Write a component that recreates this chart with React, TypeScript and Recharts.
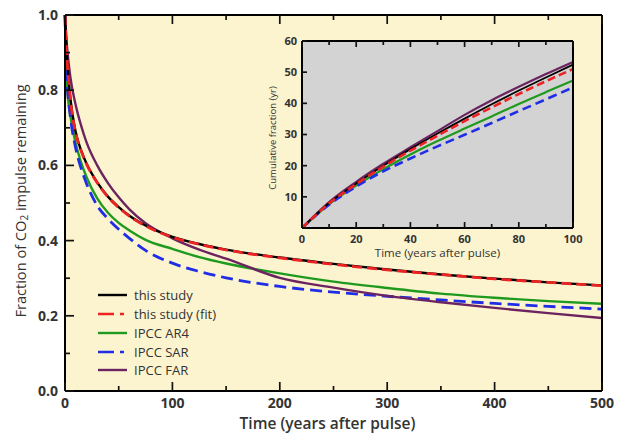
import React from 'react';
import { LineChart, Line, XAxis, YAxis, CartesianGrid, Legend, Label } from 'recharts';

// ---- main panel data (fraction remaining) ----
const years = [0, 1, 2, 5, 10, 15, 20, 30, 40, 50, 60, 75, 100, 125, 150, 200, 250, 300, 350, 400, 450, 500];
const thisStudy = [1.0, 0.934, 0.880, 0.778, 0.688, 0.640, 0.605, 0.555, 0.517, 0.489, 0.466, 0.440, 0.410, 0.391, 0.376, 0.355, 0.338, 0.323, 0.310, 0.299, 0.289, 0.281];
const thisStudyFit = [1.0, 0.932, 0.879, 0.776, 0.686, 0.639, 0.604, 0.554, 0.516, 0.488, 0.465, 0.439, 0.409, 0.390, 0.375, 0.354, 0.337, 0.322, 0.310, 0.298, 0.289, 0.280];
const ar4 = [1.0, 0.870, 0.810, 0.732, 0.658, 0.608, 0.569, 0.512, 0.474, 0.447, 0.427, 0.402, 0.378, 0.356, 0.339, 0.313, 0.291, 0.274, 0.259, 0.248, 0.239, 0.232];
const sar = [1.0, 0.880, 0.820, 0.730, 0.645, 0.592, 0.552, 0.493, 0.458, 0.430, 0.406, 0.374, 0.340, 0.318, 0.301, 0.278, 0.263, 0.252, 0.242, 0.233, 0.225, 0.218];
const far = [1.0, 0.950, 0.912, 0.835, 0.760, 0.706, 0.662, 0.600, 0.553, 0.515, 0.483, 0.446, 0.406, 0.376, 0.352, 0.301, 0.275, 0.253, 0.236, 0.221, 0.207, 0.194];

// ---- inset data (cumulative fraction, yr) ----
const insetYears = [0, 10, 20, 30, 40, 50, 60, 70, 80, 90, 100];
const cumThisStudy = [0, 8.0, 14.3, 20.0, 25.3, 30.3, 35.1, 39.7, 44.1, 48.3, 52.4];
const cumThisStudyFit = [0, 7.9, 14.1, 19.7, 24.8, 29.6, 34.3, 38.7, 43.0, 47.1, 51.0];
const cumAr4 = [0, 7.6, 13.6, 18.9, 23.6, 27.9, 31.9, 35.8, 39.8, 43.6, 47.3];
const cumSar = [0, 7.5, 13.3, 18.2, 22.3, 26.2, 29.9, 33.7, 37.5, 41.3, 45.1];
const cumFar = [0, 8.3, 14.8, 20.6, 25.9, 31.1, 36.3, 41.0, 45.3, 49.4, 53.3];

// ---- ticks ----
const mainXTicks = [0, 50, 100, 150, 200, 250, 300, 350, 400, 450, 500];
const mainYTicks = [0, 0.1, 0.2, 0.3, 0.4, 0.5, 0.6, 0.7, 0.8, 0.9, 1.0];
const insetXTicks = [0, 10, 20, 30, 40, 50, 60, 70, 80, 90, 100];
const insetYTicks = [0, 10, 20, 30, 40, 50, 60];

const seriesNames = ['this study', 'this study (fit)', 'IPCC AR4', 'IPCC SAR', 'IPCC FAR'];

const C_BLACK = '#000000';
const C_RED = '#ee2222';
const C_GREEN = '#1f9a1f';
const C_BLUE = '#1f2ee6';
const C_PURPLE = '#6c2460';
const TXT = '#333333';
const FONT = '"Open Sans", "DejaVu Sans", sans-serif';

const mainData = years.map((t, i) => ({
  t,
  thisStudy: thisStudy[i],
  thisStudyFit: thisStudyFit[i],
  ar4: ar4[i],
  sar: sar[i],
  far: far[i],
}));

const insetData = insetYears.map((t, i) => ({
  t,
  thisStudy: cumThisStudy[i],
  thisStudyFit: cumThisStudyFit[i],
  ar4: cumAr4[i],
  sar: cumSar[i],
  far: cumFar[i],
}));

type TickOpts = {
  side: 'bottom' | 'top' | 'left' | 'right';
  isMajor: (v: number) => boolean;
  showLabel: (v: number) => boolean;
  format: (v: number) => string;
  major: number;
  minor: number;
  fontSize: number;
  offset: number;
};

function makeTick(o: TickOpts) {
  return (props: any) => {
    const x = Number(props.x);
    const y = Number(props.y);
    const v = props.payload.value as number;
    const len = o.isMajor(v) ? o.major : o.minor;
    let x2 = x, y2 = y;
    if (o.side === 'bottom') y2 = y - len;
    if (o.side === 'top') y2 = y + len;
    if (o.side === 'left') x2 = x + len;
    if (o.side === 'right') x2 = x - len;
    const lbl = o.showLabel(v);
    return (
      <g>
        <line x1={x} y1={y} x2={x2} y2={y2} stroke="#111" strokeWidth={1.7} />
        {lbl && o.side === 'bottom' && (
          <text x={x} y={y + o.offset} textAnchor="middle" fontSize={o.fontSize} fontWeight={700} fill={TXT} fontFamily={FONT}>
            {o.format(v)}
          </text>
        )}
        {lbl && o.side === 'left' && (
          <text x={x - o.offset} y={y} dy="0.36em" textAnchor="end" fontSize={o.fontSize} fontWeight={700} fill={TXT} fontFamily={FONT}>
            {o.format(v)}
          </text>
        )}
      </g>
    );
  };
}

const mainMajorX = (v: number) => Math.round(v) % 100 === 0;
const mainMajorY = (v: number) => Math.round(v * 10) % 2 === 0;
const insetMajorX = (v: number) => Math.round(v) % 20 === 0;
const never = () => false;
const always = () => true;

// tick renderers (created once)
const mainBottomTick = makeTick({ side: 'bottom', isMajor: mainMajorX, showLabel: mainMajorX, format: (v) => String(v), major: 9, minor: 5, fontSize: 14, offset: 17 });
const mainTopTick = makeTick({ side: 'top', isMajor: mainMajorX, showLabel: never, format: String, major: 9, minor: 5, fontSize: 14, offset: 0 });
const mainLeftTick = makeTick({ side: 'left', isMajor: mainMajorY, showLabel: mainMajorY, format: (v) => v.toFixed(1), major: 9, minor: 5, fontSize: 14, offset: 7 });
const mainRightTick = makeTick({ side: 'right', isMajor: mainMajorY, showLabel: never, format: String, major: 9, minor: 5, fontSize: 14, offset: 0 });
const insetBottomTick = makeTick({ side: 'bottom', isMajor: insetMajorX, showLabel: insetMajorX, format: (v) => String(v), major: 6, minor: 4, fontSize: 11, offset: 15 });
const insetTopTick = makeTick({ side: 'top', isMajor: insetMajorX, showLabel: never, format: String, major: 6, minor: 4, fontSize: 11, offset: 0 });
const insetLeftTick = makeTick({ side: 'left', isMajor: always, showLabel: (v) => v > 0, format: (v) => String(v), major: 5, minor: 5, fontSize: 11, offset: 5 });
const insetRightTick = makeTick({ side: 'right', isMajor: always, showLabel: never, format: String, major: 5, minor: 5, fontSize: 11, offset: 0 });

const legendItems = [
  { name: seriesNames[0], color: C_BLACK, dash: undefined as string | undefined, width: 2.4 },
  { name: seriesNames[1], color: C_RED, dash: '16 6 4 6', width: 2.6 },
  { name: seriesNames[2], color: C_GREEN, dash: undefined, width: 2.4 },
  { name: seriesNames[3], color: C_BLUE, dash: '16 6 4 6', width: 2.6 },
  { name: seriesNames[4], color: C_PURPLE, dash: undefined, width: 2.4 },
];

const LegendContent = () => (
  <div style={{ display: 'flex', flexDirection: 'column', fontFamily: FONT }}>
    {legendItems.map((it) => (
      <div key={it.name} style={{ height: 18.75, display: 'flex', alignItems: 'center' }}>
        <svg width={38} height={10} style={{ display: 'block' }}>
          <line x1={2} y1={5} x2={31} y2={5} stroke={it.color} strokeWidth={it.width} strokeDasharray={it.dash} />
        </svg>
        <span style={{ fontSize: 13, color: TXT, lineHeight: '14px' }}>{it.name}</span>
      </div>
    ))}
  </div>
);

const MainXTitle = (props: any) => {
  const vb = props.viewBox;
  return (
    <text x={vb.x + vb.width / 2 - 6} y={vb.y + 38} textAnchor="middle" fontSize={15.5} fontWeight={600} fill={TXT} fontFamily={FONT}>
      Time (years after pulse)
    </text>
  );
};

const MainYTitle = () => {
  const cx = 20;
  const cy = 201;
  return (
    <text x={cx} y={cy} transform={`rotate(-90, ${cx}, ${cy})`} textAnchor="middle" dominantBaseline="central" fontSize={14.6} fontWeight={500} fill={TXT} fontFamily={FONT}>
      <tspan>Fraction of CO</tspan>
      <tspan fontSize={10} dy={4}>2</tspan>
      <tspan dy={-4}> impulse remaining</tspan>
    </text>
  );
};

const InsetXTitle = (props: any) => {
  const vb = props.viewBox;
  return (
    <text x={vb.x + vb.width / 2} y={vb.y + 29} textAnchor="middle" fontSize={11.5} fontWeight={500} fill={TXT} fontFamily={FONT}>
      Time (years after pulse)
    </text>
  );
};

const InsetYTitle = () => {
  const cx = 22;
  const cy = 108;
  return (
    <text x={cx} y={cy} transform={`rotate(-90, ${cx}, ${cy})`} textAnchor="middle" dominantBaseline="central" fontSize={9.5} fill={TXT} fontFamily={FONT}>
      Cumulative fraction (yr)
    </text>
  );
};

const MAIN_W = 617, MAIN_H = 434;
const MAIN_MARGIN = { top: 14, right: 14, bottom: 0, left: 0 };
const INSET_W = 340, INSET_H = 235;
const INSET_MARGIN = { top: 10, right: 16, bottom: 0, left: 0 };

export default function App() {
  const axisLine = { stroke: '#000', strokeWidth: 2 };
  return (
    <div style={{ position: 'absolute', left: 0, top: 0, width: 617, height: 434, background: '#ffffff', overflow: 'hidden' }}>
      {/* main panel background */}
      <div style={{ position: 'absolute', left: 0, top: 0 }}>
        <LineChart width={MAIN_W} height={MAIN_H} data={mainData} margin={{ top: 15, right: 15, bottom: 43, left: 65 }}>
          <CartesianGrid fill="#fcf4cf" horizontal={false} vertical={false} />
          <XAxis dataKey="t" type="number" domain={[0, 500]} hide />
          <YAxis type="number" domain={[0, 1]} hide />
        </LineChart>
      </div>
      {/* main panel */}
      <div style={{ position: 'absolute', left: 0, top: 0 }}>
        <LineChart width={MAIN_W} height={MAIN_H} data={mainData} margin={MAIN_MARGIN}>
          <XAxis xAxisId="b" dataKey="t" type="number" domain={[0, 500]} ticks={mainXTicks} interval={0} height={43}
            axisLine={axisLine} tickLine={false} tickSize={0} tickMargin={0} tick={mainBottomTick}>
            <Label content={MainXTitle} />
          </XAxis>
          <XAxis xAxisId="t" orientation="top" dataKey="t" type="number" domain={[0, 500]} ticks={mainXTicks} interval={0} height={1}
            axisLine={axisLine} tickLine={false} tickSize={0} tickMargin={0} tick={mainTopTick} />
          <YAxis yAxisId="l" type="number" domain={[0, 1]} ticks={mainYTicks} interval={0} width={65}
            axisLine={axisLine} tickLine={false} tickSize={0} tickMargin={0} tick={mainLeftTick}>
            <Label content={MainYTitle} />
          </YAxis>
          <YAxis yAxisId="r" orientation="right" type="number" domain={[0, 1]} ticks={mainYTicks} interval={0} width={1}
            axisLine={axisLine} tickLine={false} tickSize={0} tickMargin={0} tick={mainRightTick} />
          <Line xAxisId="b" yAxisId="l" type="monotone" dataKey="ar4" name={seriesNames[2]} stroke={C_GREEN} strokeWidth={2.4} dot={false} isAnimationActive={false} />
          <Line xAxisId="b" yAxisId="l" type="monotone" dataKey="sar" name={seriesNames[3]} stroke={C_BLUE} strokeWidth={2.8} strokeDasharray="12 6" dot={false} isAnimationActive={false} />
          <Line xAxisId="b" yAxisId="l" type="monotone" dataKey="far" name={seriesNames[4]} stroke={C_PURPLE} strokeWidth={2.4} dot={false} isAnimationActive={false} />
          <Line xAxisId="b" yAxisId="l" type="monotone" dataKey="thisStudy" name={seriesNames[0]} stroke={C_BLACK} strokeWidth={2.4} dot={false} isAnimationActive={false} />
          <Line xAxisId="b" yAxisId="l" type="monotone" dataKey="thisStudyFit" name={seriesNames[1]} stroke={C_RED} strokeWidth={2.8} strokeDasharray="10 5" dot={false} isAnimationActive={false} />
          <Legend layout="vertical" align="center" verticalAlign="middle" content={LegendContent}
            wrapperStyle={{ position: 'absolute', left: 96, top: 286, width: 170, height: 95, bottom: 'auto', right: 'auto' }} />
        </LineChart>
      </div>
      {/* inset background */}
      <div style={{ position: 'absolute', left: 250, top: 30 }}>
        <LineChart width={INSET_W} height={INSET_H} data={insetData} margin={{ top: 11, right: 17, bottom: 37, left: 52 }}>
          <CartesianGrid fill="#d3d3d3" horizontal={false} vertical={false} />
          <XAxis dataKey="t" type="number" domain={[0, 100]} hide />
          <YAxis type="number" domain={[0, 60]} hide />
        </LineChart>
      </div>
      {/* inset */}
      <div style={{ position: 'absolute', left: 250, top: 30 }}>
        <LineChart width={INSET_W} height={INSET_H} data={insetData} margin={INSET_MARGIN}>
          <XAxis xAxisId="b" dataKey="t" type="number" domain={[0, 100]} ticks={insetXTicks} interval={0} height={37}
            axisLine={axisLine} tickLine={false} tickSize={0} tickMargin={0} tick={insetBottomTick}>
            <Label content={InsetXTitle} />
          </XAxis>
          <XAxis xAxisId="t" orientation="top" dataKey="t" type="number" domain={[0, 100]} ticks={insetXTicks} interval={0} height={1}
            axisLine={axisLine} tickLine={false} tickSize={0} tickMargin={0} tick={insetTopTick} />
          <YAxis yAxisId="l" type="number" domain={[0, 60]} ticks={insetYTicks} interval={0} width={52}
            axisLine={axisLine} tickLine={false} tickSize={0} tickMargin={0} tick={insetLeftTick}>
            <Label content={InsetYTitle} />
          </YAxis>
          <YAxis yAxisId="r" orientation="right" type="number" domain={[0, 60]} ticks={insetYTicks} interval={0} width={1}
            axisLine={axisLine} tickLine={false} tickSize={0} tickMargin={0} tick={insetRightTick} />
          <Line xAxisId="b" yAxisId="l" type="monotone" dataKey="ar4" stroke={C_GREEN} strokeWidth={2.2} dot={false} isAnimationActive={false} />
          <Line xAxisId="b" yAxisId="l" type="monotone" dataKey="sar" stroke={C_BLUE} strokeWidth={2.6} strokeDasharray="9 5" dot={false} isAnimationActive={false} />
          <Line xAxisId="b" yAxisId="l" type="monotone" dataKey="far" stroke={C_PURPLE} strokeWidth={2.2} dot={false} isAnimationActive={false} />
          <Line xAxisId="b" yAxisId="l" type="monotone" dataKey="thisStudy" stroke={C_BLACK} strokeWidth={1.8} dot={false} isAnimationActive={false} />
          <Line xAxisId="b" yAxisId="l" type="monotone" dataKey="thisStudyFit" stroke={C_RED} strokeWidth={2.6} strokeDasharray="8 4" dot={false} isAnimationActive={false} />
        </LineChart>
      </div>
    </div>
  );
}
